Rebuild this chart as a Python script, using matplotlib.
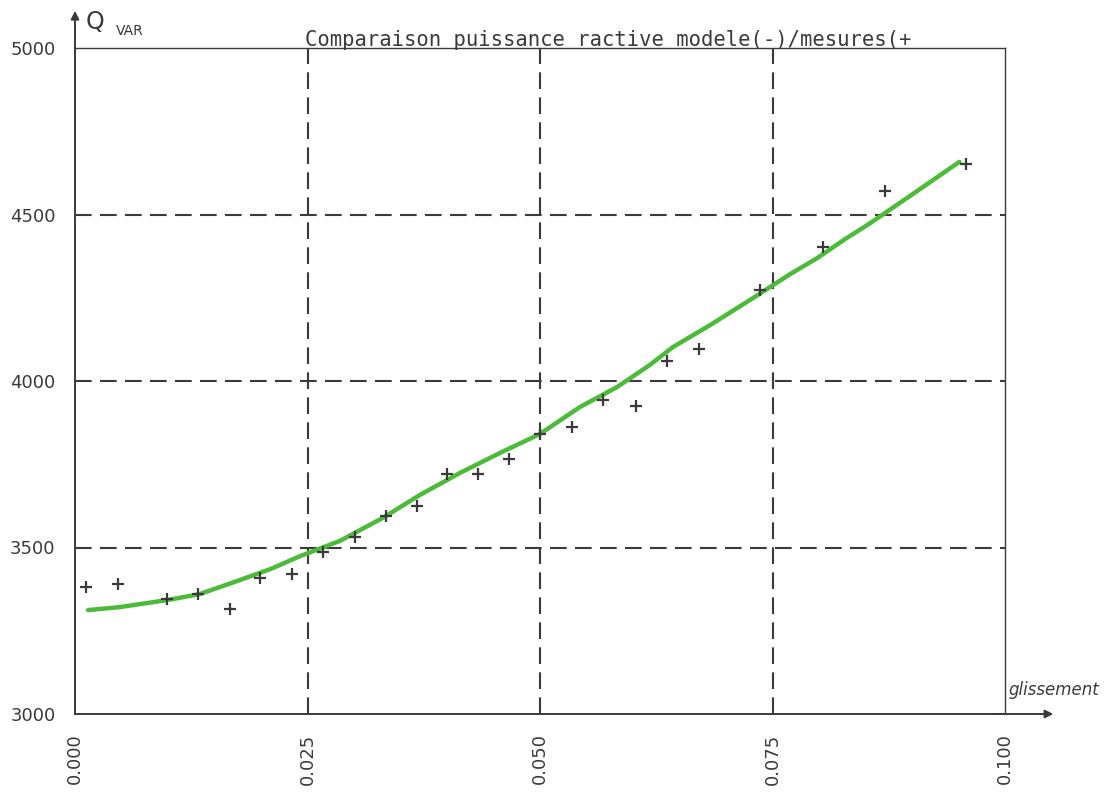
import numpy as np
import matplotlib.pyplot as plt

# measured points (+)
meas_x = [0.0012, 0.0046, 0.0099, 0.0132, 0.0167, 0.0199, 0.0233, 0.0267, 0.0301, 0.0334,
          0.0368, 0.0400, 0.0433, 0.0467, 0.0500, 0.0534, 0.0568, 0.0603, 0.0637, 0.0671,
          0.0737, 0.0804, 0.0871, 0.0958]
meas_q = [3381, 3390, 3345, 3360, 3315, 3408, 3420, 3486, 3532, 3595,
          3625, 3721, 3721, 3766, 3841, 3862, 3943, 3925, 4060, 4096,
          4273, 4402, 4570, 4652]

# model curve (-)
model_x = [0.0014, 0.0048, 0.0099, 0.0134, 0.0174, 0.0210, 0.0242, 0.0285, 0.0331, 0.0371,
           0.0414, 0.0457, 0.0500, 0.0543, 0.0583, 0.0618, 0.0643, 0.0683, 0.0729, 0.0769,
           0.0798, 0.0828, 0.0855, 0.0898, 0.0951]
model_q = [3312, 3321, 3342, 3360, 3399, 3435, 3474, 3520, 3589, 3658,
           3724, 3784, 3841, 3922, 3982, 4048, 4102, 4168, 4249, 4321,
           4369, 4426, 4474, 4556, 4658]

xticks = [0.0, 0.025, 0.05, 0.075, 0.1]
xtick_labels = ["0.000", "0.025", "0.050", "0.075", "0.100"]
yticks = [3000, 3500, 4000, 4500, 5000]
ytick_labels = ["3000", "3500", "4000", "4500", "5000"]

ink = "#3a3a3a"

fig = plt.figure(figsize=(11.06, 7.99), dpi=100)
ax = fig.add_axes([75 / 1106, 1 - 714 / 799, 930 / 1106, 666 / 799])
ax.set_xlim(0, 0.1)
ax.set_ylim(3000, 5000)

# dashed grid
for v in xticks[1:4]:
    ax.axvline(v, color=ink, lw=1.5, ls=(0, (8, 4)), zorder=1)
for v in yticks[1:4]:
    ax.axhline(v, color=ink, lw=1.5, ls=(0, (8, 4)), zorder=1)

ax.plot(model_x, model_q, color="#4cbb3a", lw=3.2, solid_capstyle="round", zorder=3)
ax.plot(meas_x, meas_q, ls="none", marker="+", ms=9, mew=1.6, color=ink, zorder=4)

ax.set_xticks(xticks)
ax.set_xticklabels(xtick_labels, rotation=90, fontsize=13, color=ink)
ax.set_yticks(yticks)
ax.set_yticklabels(ytick_labels, fontsize=13, color=ink)
ax.tick_params(length=0, pad=14)
for lab in ax.get_xticklabels():
    lab.set_verticalalignment("top")

for s in ["top", "right"]:
    ax.spines[s].set_linewidth(1.0)
    ax.spines[s].set_color(ink)
for s in ["left", "bottom"]:
    ax.spines[s].set_linewidth(1.4)
    ax.spines[s].set_color(ink)

# axis arrows
ax.annotate("", xy=(0, 1.06), xytext=(0, 0.99), xycoords="axes fraction",
            arrowprops=dict(arrowstyle="-|>", color=ink, lw=1.4, mutation_scale=12),
            annotation_clip=False)
ax.annotate("", xy=(1.055, 0), xytext=(0.99, 0), xycoords="axes fraction",
            arrowprops=dict(arrowstyle="-|>", color=ink, lw=1.4, mutation_scale=12,
                            shrinkA=0),
            annotation_clip=False)

fig.text(86 / 1106, 1 - 22 / 799, "Q", fontsize=17, color=ink, va="center", ha="left")
fig.text(116 / 1106, 1 - 31 / 799, "VAR", fontsize=10, color=ink, va="center", ha="left")
fig.text(305 / 1106, 1 - 40 / 799, "Comparaison puissance ractive modele(-)/mesures(+",
         fontsize=14.8, color=ink, va="center", ha="left", family="DejaVu Sans Mono")
fig.text(1008 / 1106, 1 - 690 / 799, "glissement", fontsize=12, color=ink,
         style="italic", va="center", ha="left")

fig.savefig("out.png", dpi=100, facecolor="white")
